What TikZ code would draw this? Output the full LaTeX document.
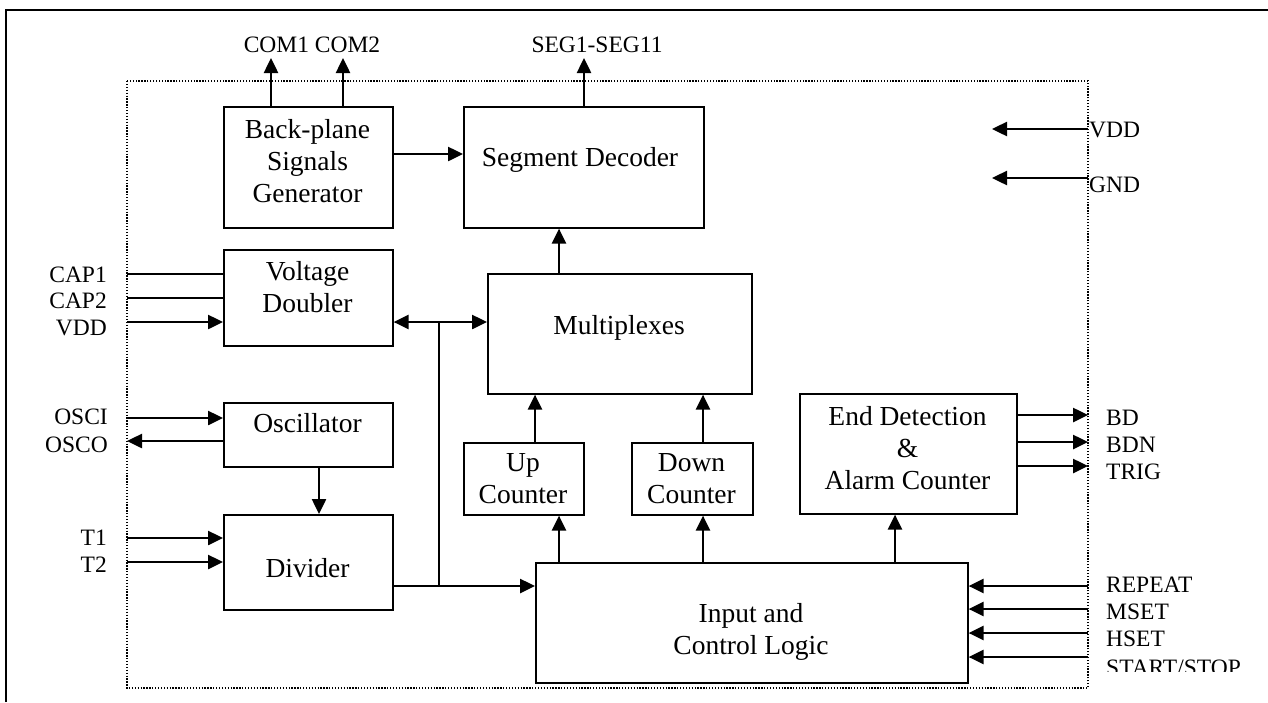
\documentclass[tikz,border=0pt]{standalone}
\usepackage{fontspec}
\setmainfont{Liberation Serif}
\usetikzlibrary{arrows.meta}
\begin{document}
\begin{tikzpicture}[x=1pt,y=-1pt,
  box/.style={draw, line width=1.6pt, inner sep=0pt, anchor=north west},
  btxt/.style={align=center, font=\fontsize{27.5}{32}\selectfont, inner sep=0pt},
  lbl/.style={font=\fontsize{23.5}{27}\selectfont, inner sep=0pt},
  conn/.style={line width=2.5pt},
  arr/.style={conn, -{Triangle[length=15pt,width=14pt]}},
  darr/.style={conn, {Triangle[length=15pt,width=14pt]}-{Triangle[length=15pt,width=14pt]}},
]
\useasboundingbox (0,0) rectangle (1268,702);
% outer frame and dotted chip outline
\draw[line width=2.2pt] (6,702) -- (6,10) -- (1268,10);
\draw[line width=1.3pt, dash pattern=on 1.3pt off 1.6pt] (127,81) rectangle (1088,688);

% boxes
\node[box, minimum width=169pt, minimum height=121pt] (bp) at (223,106) {};
\node[box, minimum width=240pt, minimum height=121pt] (sd) at (463,106) {};
\node[box, minimum width=169pt, minimum height=96pt] (vd) at (223,249) {};
\node[box, minimum width=264pt, minimum height=120pt] (mux) at (487,273) {};
\node[box, minimum width=169pt, minimum height=64pt] (osc) at (223,402) {};
\node[box, minimum width=169pt, minimum height=95pt] (div) at (223,514) {};
\node[box, minimum width=120pt, minimum height=72pt] (up) at (463,442) {};
\node[box, minimum width=121pt, minimum height=72pt] (down) at (631,442) {};
\node[box, minimum width=217pt, minimum height=120pt] (end) at (799,393) {};
\node[box, minimum width=432pt, minimum height=120pt] (inp) at (535,562) {};

% box texts
\node[btxt] (bpT) at (307.5,161) {Back-plane\\Signals\\Generator};
\node[btxt] (sdT) at (580,160) {Segment Decoder};
\node[btxt] (vdT) at (307.5,287) {Voltage\\Doubler};
\node[btxt] (muxT) at (619,328) {Multiplexes};
\node[btxt] (oscT) at (307.5,423) {Oscillator};
\node[btxt] (divT) at (307.5,568) {Divider};
\node[btxt] (upT) at (523,479) {Up\\Counter};
\node[btxt] (downT) at (691.5,479) {Down\\Counter};
\node[btxt] (endT) at (907.5,448) {End Detection\\\&\\Alarm Counter};
\node[btxt] (inpT) at (751,632) {Input and\\Control Logic};

% labels
\node[lbl] (lcom) at (312,45) {COM1 COM2};
\node[lbl] (lseg) at (597,45) {SEG1-SEG11};
\node[lbl, anchor=west] (lvddr) at (1089,129.5) {VDD};
\node[lbl, anchor=west] (lgnd) at (1089,184.5) {GND};
\node[lbl, anchor=east] (lcap1) at (107,274.5) {CAP1};
\node[lbl, anchor=east] (lcap2) at (107,301) {CAP2};
\node[lbl, anchor=east] (lvdd) at (107,328) {VDD};
\node[lbl, anchor=east] (losci) at (108,417) {OSCI};
\node[lbl, anchor=east] (losco) at (108,445) {OSCO};
\node[lbl, anchor=east] (lt1) at (107,538) {T1};
\node[lbl, anchor=east] (lt2) at (107,565) {T2};
\node[lbl, anchor=west] (lbd) at (1106,418) {BD};
\node[lbl, anchor=west] (lbdn) at (1106,445) {BDN};
\node[lbl, anchor=west] (ltrig) at (1106,472) {TRIG};
\node[lbl, anchor=west] (lrep) at (1106,585) {REPEAT};
\node[lbl, anchor=west] (lmset) at (1106,612) {MSET};
\node[lbl, anchor=west] (lhset) at (1106,639) {HSET};
\begin{scope}
\clip (1090,650) rectangle (1268,671.5);
\node[lbl, anchor=west] (lss) at (1106,668) {START/STOP};
\end{scope}

% free connector ends
\coordinate (com1) at (271,58);
\coordinate (com2) at (343,58);
\coordinate (seg) at (584,58);
\coordinate (vddin) at (1088,129);
\coordinate (vddend) at (992,129);
\coordinate (gndin) at (1088,178);
\coordinate (gndend) at (992,178);
\coordinate (cap1) at (127,274);
\coordinate (cap2) at (127,298);
\coordinate (vdd) at (127,322);
\coordinate (osci) at (127,418);
\coordinate (osco) at (127,441);
\coordinate (t1) at (127,538);
\coordinate (t2) at (127,562);
\coordinate (j1) at (439,322);
\coordinate (j2) at (439,586);
\coordinate (bd) at (1088,415);
\coordinate (bdn) at (1088,442);
\coordinate (trig) at (1088,466);
\coordinate (rep) at (1088,586);
\coordinate (mset) at (1088,609);
\coordinate (hset) at (1088,633);
\coordinate (ss) at (1088,657);

% connectors
\draw[arr] (com1 |- bp.north) -- (com1);
\draw[arr] (com2 |- bp.north) -- (com2);
\draw[arr] (seg |- sd.north) -- (seg);
\draw[arr] (bp.east |- 0,154) -- (sd.west |- 0,154);
\draw[arr] (mux.north -| 559,0) -- (sd.south -| 559,0);
\draw[arr] (vddin) -- (vddend);
\draw[arr] (gndin) -- (gndend);
\draw[conn] (cap1) -- (cap1 -| vd.west);
\draw[conn] (cap2) -- (cap2 -| vd.west);
\draw[arr] (vdd) -- (vdd -| vd.west);
\draw[darr] (vd.east |- j1) -- (mux.west |- j1);
\draw[conn] (j1) -- (j2);
\draw[arr] (osci) -- (osci -| osc.west);
\draw[arr] (osco -| osc.west) -- (osco);
\draw[arr] (osc.south -| 319,0) -- (div.north -| 319,0);
\draw[arr] (t1) -- (t1 -| div.west);
\draw[arr] (t2) -- (t2 -| div.west);
\draw[arr] (div.east |- j2) -- (inp.west |- j2);
\draw[arr] (inp.north -| 559,0) -- (up.south -| 559,0);
\draw[arr] (up.north -| 535,0) -- (mux.south -| 535,0);
\draw[arr] (inp.north -| 703,0) -- (down.south -| 703,0);
\draw[arr] (down.north -| 703,0) -- (mux.south -| 703,0);
\draw[arr] (inp.north -| 895,0) -- (end.south -| 895,0);
\draw[arr] (bd -| end.east) -- (bd);
\draw[arr] (bdn -| end.east) -- (bdn);
\draw[arr] (trig -| end.east) -- (trig);
\draw[arr] (rep) -- (rep -| inp.east);
\draw[arr] (mset) -- (mset -| inp.east);
\draw[arr] (hset) -- (hset -| inp.east);
\draw[arr] (ss) -- (ss -| inp.east);
\end{tikzpicture}
\end{document}
